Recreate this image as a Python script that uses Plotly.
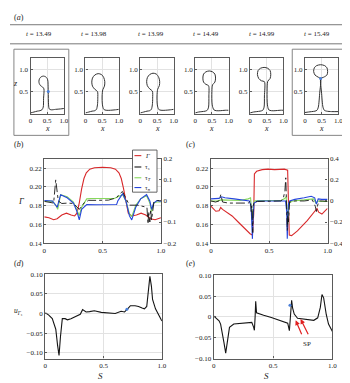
import plotly.graph_objects as go

W, H = 350, 383
FONT = "Liberation Serif"

# ---------------- data ----------------
times = ["13.49", "13.98", "13.99", "14.49", "14.99", "15.49"]

shape_x = [
    [0, 0.1, 0.2, 0.28, 0.34, 0.38, 0.39, 0.40, 0.36, 0.30, 0.26, 0.25, 0.27, 0.32, 0.385, 0.45, 0.50, 0.52, 0.525, 0.53, 0.54, 0.56, 0.62, 0.75, 0.9, 1.0],
    [0, 0.1, 0.2, 0.28, 0.33, 0.36, 0.37, 0.36, 0.28, 0.21, 0.19, 0.21, 0.28, 0.38, 0.48, 0.55, 0.58, 0.57, 0.52, 0.50, 0.51, 0.55, 0.62, 0.75, 0.9, 1.0],
    [0, 0.1, 0.2, 0.28, 0.33, 0.36, 0.37, 0.36, 0.28, 0.21, 0.19, 0.21, 0.28, 0.38, 0.48, 0.55, 0.58, 0.57, 0.52, 0.50, 0.51, 0.55, 0.62, 0.75, 0.9, 1.0],
    [0, 0.1, 0.2, 0.3, 0.36, 0.40, 0.41, 0.40, 0.32, 0.25, 0.23, 0.25, 0.32, 0.42, 0.52, 0.59, 0.61, 0.59, 0.52, 0.50, 0.51, 0.56, 0.63, 0.75, 0.9, 1.0],
    [0, 0.1, 0.2, 0.3, 0.38, 0.42, 0.43, 0.43, 0.34, 0.26, 0.22, 0.24, 0.31, 0.42, 0.53, 0.60, 0.62, 0.60, 0.53, 0.51, 0.52, 0.56, 0.64, 0.75, 0.9, 1.0],
    [0, 0.1, 0.2, 0.3, 0.36, 0.40, 0.44, 0.465, 0.40, 0.30, 0.26, 0.28, 0.35, 0.47, 0.59, 0.66, 0.68, 0.66, 0.56, 0.475, 0.50, 0.54, 0.58, 0.65, 0.8, 1.0],
]
shape_z = [
    [0.02, 0.04, 0.06, 0.07, 0.09, 0.15, 0.35, 0.56, 0.60, 0.63, 0.68, 0.73, 0.79, 0.83, 0.845, 0.83, 0.79, 0.73, 0.65, 0.5, 0.2, 0.11, 0.09, 0.1, 0.11, 0.12],
    [0.02, 0.04, 0.06, 0.07, 0.1, 0.2, 0.35, 0.50, 0.55, 0.62, 0.71, 0.80, 0.87, 0.90, 0.88, 0.81, 0.72, 0.62, 0.54, 0.4, 0.2, 0.1, 0.08, 0.08, 0.09, 0.10],
    [0.02, 0.04, 0.06, 0.07, 0.1, 0.2, 0.35, 0.51, 0.56, 0.63, 0.72, 0.81, 0.88, 0.91, 0.89, 0.82, 0.73, 0.63, 0.55, 0.4, 0.2, 0.1, 0.08, 0.08, 0.09, 0.10],
    [0.02, 0.04, 0.05, 0.06, 0.08, 0.15, 0.4, 0.63, 0.66, 0.71, 0.80, 0.89, 0.94, 0.96, 0.94, 0.89, 0.80, 0.71, 0.65, 0.5, 0.2, 0.09, 0.07, 0.07, 0.08, 0.08],
    [0.02, 0.04, 0.05, 0.06, 0.08, 0.15, 0.4, 0.72, 0.74, 0.79, 0.88, 0.97, 1.02, 1.04, 1.02, 0.97, 0.88, 0.79, 0.73, 0.5, 0.2, 0.09, 0.07, 0.07, 0.08, 0.08],
    [0.03, 0.04, 0.05, 0.06, 0.08, 0.15, 0.45, 0.79, 0.82, 0.87, 0.95, 1.03, 1.08, 1.10, 1.08, 1.03, 0.95, 0.87, 0.82, 0.79, 0.45, 0.15, 0.08, 0.06, 0.05, 0.05],
]
mark_panels = [0, 5]
mark_x = [0.53, 0.47]
mark_z = [0.5, 0.79]

# (b) t = 13.49
b_gam_s = [0, 0.04, 0.08, 0.11, 0.15, 0.19, 0.23, 0.26, 0.28, 0.30, 0.32, 0.34, 0.36, 0.39, 0.43, 0.5, 0.57, 0.61, 0.64, 0.66, 0.68, 0.70, 0.72, 0.75, 0.79, 0.83, 0.87, 0.91, 0.95, 1.0]
b_gam = [0.168, 0.167, 0.165, 0.166, 0.170, 0.172, 0.170, 0.169, 0.172, 0.183, 0.198, 0.209, 0.215, 0.219, 0.2205, 0.221, 0.2205, 0.219, 0.215, 0.209, 0.198, 0.183, 0.172, 0.169, 0.170, 0.172, 0.170, 0.166, 0.165, 0.167]
b_ts_s = [0, 0.05, 0.08, 0.098, 0.12, 0.15, 0.2, 0.25, 0.28, 0.3, 0.34, 0.38, 0.45, 0.55, 0.62, 0.64, 0.67, 0.7, 0.73, 0.8, 0.86, 0.88, 0.89, 0.895, 0.905, 0.912, 0.92, 0.94, 0.97, 1.0]
b_ts = [-0.002, -0.008, -0.01, 0.10, 0.0, -0.012, -0.01, -0.012, -0.03, -0.04, -0.01, 0.003, 0.003, 0.004, 0.015, 0.03, 0.045, 0.01, -0.02, -0.02, -0.025, -0.03, -0.11, -0.05, -0.1, -0.04, -0.09, -0.005, 0.002, 0.002]
b_tt_s = [0, 0.07, 0.1, 0.115, 0.14, 0.196, 0.25, 0.28, 0.30, 0.32, 0.364, 0.4, 0.5, 0.6, 0.63, 0.672, 0.7, 0.73, 0.75, 0.784, 0.826, 0.877, 0.905, 0.92, 0.938, 0.966, 1.0]
b_tt = [0.0, -0.002, -0.02, -0.04, 0.03, 0.02, -0.005, -0.04, -0.07, -0.03, 0.01, 0.012, 0.012, 0.012, 0.02, 0.03, 0.0, -0.06, -0.075, -0.02, 0.01, 0.025, -0.01, -0.05, -0.01, -0.005, -0.005]
b_tn_s = [0, 0.07, 0.11, 0.14, 0.196, 0.25, 0.28, 0.30, 0.32, 0.364, 0.45, 0.55, 0.62, 0.63, 0.672, 0.7, 0.73, 0.75, 0.784, 0.826, 0.877, 0.905, 0.92, 0.938, 0.966, 1.0]
b_tn = [0.002, 0.0, -0.03, 0.03, 0.015, -0.01, -0.05, -0.09, -0.04, -0.017, -0.018, -0.018, -0.017, 0.0, 0.035, 0.0, -0.07, -0.09, -0.03, 0.01, 0.03, 0.0, -0.04, -0.01, 0.002, -0.002]

# (c) t = 15.49
c_gam_s = [0, 0.042, 0.07, 0.084, 0.1, 0.126, 0.182, 0.238, 0.294, 0.336, 0.356, 0.367, 0.373, 0.392, 0.44, 0.49, 0.546, 0.6, 0.63, 0.658, 0.664, 0.672, 0.692, 0.742, 0.826, 0.882, 0.91, 0.924, 0.952, 1.0]
c_gam = [0.1795, 0.174, 0.1745, 0.178, 0.176, 0.174, 0.169, 0.162, 0.155, 0.150, 0.1485, 0.171, 0.214, 0.2167, 0.2185, 0.219, 0.2185, 0.2185, 0.219, 0.218, 0.19, 0.1485, 0.148, 0.153, 0.164, 0.172, 0.177, 0.173, 0.171, 0.177]
c_ts_s = [0, 0.04, 0.07, 0.085, 0.1, 0.15, 0.25, 0.32, 0.34, 0.345, 0.35, 0.353, 0.356, 0.359, 0.362, 0.37, 0.4, 0.5, 0.6, 0.62, 0.635, 0.642, 0.648, 0.655, 0.66, 0.665, 0.675, 0.72, 0.8, 0.87, 0.895, 0.905, 0.915, 0.93, 0.96, 1.0]
c_ts = [0.0, -0.01, 0.0, 0.06, -0.01, -0.02, -0.02, -0.02, 0.0, -0.1, -0.05, -0.25, -0.1, -0.3, -0.05, -0.01, -0.005, -0.005, 0.0, 0.02, 0.1, 0.22, 0.05, -0.28, -0.1, -0.2, -0.01, 0.0, 0.0, 0.01, -0.05, -0.1, -0.04, 0.0, 0.0, -0.005]
c_tt_s = [0, 0.05, 0.09, 0.15, 0.25, 0.32, 0.34, 0.35, 0.356, 0.362, 0.37, 0.4, 0.5, 0.6, 0.63, 0.645, 0.655, 0.66, 0.67, 0.7, 0.8, 0.88, 0.9, 0.92, 0.95, 1.0]
c_tt = [0.0, 0.0, 0.01, 0.01, 0.005, 0.02, 0.03, -0.1, -0.22, -0.08, 0.0, 0.005, 0.005, 0.005, 0.02, 0.04, -0.12, -0.22, -0.02, 0.0, 0.01, 0.02, -0.02, 0.0, -0.005, -0.005]
c_tn_s = [0, 0.04, 0.07, 0.09, 0.12, 0.2, 0.28, 0.33, 0.345, 0.352, 0.356, 0.36, 0.37, 0.4, 0.5, 0.6, 0.64, 0.65, 0.655, 0.66, 0.665, 0.675, 0.72, 0.8, 0.86, 0.89, 0.905, 0.92, 0.95, 1.0]
c_tn = [0.02, 0.02, 0.025, 0.04, 0.03, 0.02, 0.01, 0.0, -0.05, -0.2, -0.36, -0.2, -0.02, 0.0, 0.0, 0.0, 0.0, -0.1, -0.36, -0.15, -0.03, 0.0, 0.015, 0.03, 0.045, 0.03, -0.03, 0.02, 0.015, 0.015]

# (d) t = 13.49
d_s = [0, 0.03, 0.06, 0.09, 0.105, 0.118, 0.13, 0.146, 0.17, 0.19, 0.22, 0.26, 0.3, 0.32, 0.35, 0.38, 0.42, 0.48, 0.54, 0.6, 0.65, 0.68, 0.71, 0.73, 0.77, 0.8, 0.83, 0.85, 0.87, 0.885, 0.897, 0.91, 0.92, 0.945, 0.964, 1.0]
d_u = [0.002, -0.004, -0.013, -0.04, -0.08, -0.107, -0.06, -0.013, -0.013, -0.016, -0.013, -0.008, -0.002, 0.010, 0.004, 0.005, 0.007, 0.003, 0.002, 0.0, 0.006, 0.004, 0.013, 0.02, 0.02, 0.018, 0.014, 0.012, 0.018, 0.06, 0.095, 0.07, 0.036, 0.012, 0.0, -0.019]
d_mark = (0.70, 0.011)

# (e) t = 15.49
e_s = [0, 0.044, 0.057, 0.07, 0.085, 0.1, 0.113, 0.132, 0.168, 0.237, 0.32, 0.336, 0.342, 0.348, 0.353, 0.36, 0.375, 0.42, 0.485, 0.567, 0.623, 0.637, 0.645, 0.656, 0.664, 0.678, 0.706, 0.75, 0.788, 0.843, 0.876, 0.898, 0.912, 0.926, 0.948, 0.967, 1.0]
e_u = [0.002, -0.009, -0.017, -0.035, -0.061, -0.087, -0.057, -0.025, -0.017, -0.015, -0.013, -0.025, -0.032, 0.0, 0.038, 0.01, 0.008, 0.004, -0.001, -0.009, -0.015, -0.033, 0.0, 0.04, 0.022, 0.007, -0.003, -0.005, -0.005, -0.008, -0.002, 0.023, 0.054, 0.046, 0.006, -0.017, -0.035]
e_mark = (0.642, 0.028)
sp_tips = [(0.69, -0.008), (0.732, -0.005)]
sp_tails = [(0.746, -0.045), (0.802, -0.045)]

# ---------------- styles ----------------
RED = "#d8282a"
GREEN = "#86d85c"
BLUE = "#2545dc"
BLACK = "#151515"
FRAME = "#5a5a5a"
GRID = "#e2e2e2"
TICKSZ = 7


def X(px):
    return px / W


def Y(py):
    return 1 - py / H


def ax(**kw):
    d = dict(showline=True, linecolor=FRAME, linewidth=1.3, mirror=True,
             ticks="inside", ticklen=2, tickwidth=0.7, tickcolor=FRAME,
             showgrid=True, gridcolor=GRID, gridwidth=0.7, zeroline=False,
             tickfont=dict(family=FONT, size=TICKSZ, color="#222"), fixedrange=True)
    d.update(kw)
    return d


def neg(v):
    s = f"{v:g}"
    return s.replace("-", "\u2212")


fig = go.Figure()
layout = {}

# ---- (a) shape panels ----
for k in range(6):
    n = k + 1
    xa = "x" if n == 1 else f"x{n}"
    ya = "y" if n == 1 else f"y{n}"
    fig.add_trace(go.Scatter(x=shape_x[k], y=shape_z[k], mode="lines",
                             line=dict(color="#333", width=1, shape="spline", smoothing=0.8),
                             xaxis=xa, yaxis=ya, hoverinfo="skip"))
    left = 21 + 56 * k
    layout[f"xaxis{n}" if n > 1 else "xaxis"] = ax(
        domain=[X(left), X(left + 34)], range=[0, 1], anchor=ya,
        tickvals=[0, 0.5, 1], ticktext=["0", "0.5", "1.0"])
    layout[f"yaxis{n}" if n > 1 else "yaxis"] = ax(
        domain=[Y(104), Y(47)], range=[0, 1.25], anchor=xa,
        tickvals=[0.5, 1.0], ticktext=["0.5", "1.0"])

for p, mx, mz in zip(mark_panels, mark_x, mark_z):
    n = p + 1
    fig.add_trace(go.Scatter(x=[mx], y=[mz], mode="markers",
                             marker=dict(color="#4a7fd8", size=3),
                             xaxis="x" if n == 1 else f"x{n}",
                             yaxis="y" if n == 1 else f"y{n}", hoverinfo="skip"))


# ---- (b) and (c) ----
def stress_panel(xn, yl, yr, left, right, rmax, gs, g, ss, ts, st, tt, sn, tn):
    fig.add_trace(go.Scatter(x=gs, y=g, mode="lines", line=dict(color=RED, width=1.1),
                             xaxis=f"x{xn}", yaxis=f"y{yl}", hoverinfo="skip"))
    fig.add_trace(go.Scatter(x=st, y=tt, mode="lines", line=dict(color=GREEN, width=1.1),
                             xaxis=f"x{xn}", yaxis=f"y{yr}", hoverinfo="skip"))
    fig.add_trace(go.Scatter(x=sn, y=tn, mode="lines", line=dict(color=BLUE, width=1.1),
                             xaxis=f"x{xn}", yaxis=f"y{yr}", hoverinfo="skip"))
    fig.add_trace(go.Scatter(x=ss, y=ts, mode="lines", line=dict(color=BLACK, width=0.9, dash="dashdot"),
                             xaxis=f"x{xn}", yaxis=f"y{yr}", hoverinfo="skip"))
    layout[f"xaxis{xn}"] = ax(domain=[X(left), X(right)], range=[0, 1], anchor=f"y{yl}",
                              tickvals=[0, 0.5, 1], ticktext=["0", "0.5", "1.0"])
    lv = [0.14, 0.16, 0.18, 0.20, 0.22]
    layout[f"yaxis{yl}"] = ax(domain=[Y(236), Y(150)], range=[0.14, 0.23], anchor=f"x{xn}",
                              tickvals=lv, ticktext=[f"{v:.2f}" for v in lv])
    rv = [-rmax, -rmax / 2, 0, rmax / 2, rmax]
    layout[f"yaxis{yr}"] = ax(overlaying=f"y{yl}", side="right", anchor=f"x{xn}",
                              range=[-rmax, rmax], tickvals=rv, ticktext=[neg(v) for v in rv],
                              showgrid=False, mirror=False)


stress_panel(7, 7, 8, 35, 154, 0.2, b_gam_s, b_gam, b_ts_s, b_ts, b_tt_s, b_tt, b_tn_s, b_tn)
stress_panel(8, 9, 10, 205, 324, 0.4, c_gam_s, c_gam, c_ts_s, c_ts, c_tt_s, c_tt, c_tn_s, c_tn)

# ---- (d) and (e) ----
uv = [-0.10, -0.05, 0, 0.05, 0.10]
ut = ["\u22120.10", "\u22120.05", "0", "0.05", "0.10"]
fig.add_trace(go.Scatter(x=d_s, y=d_u, mode="lines", line=dict(color=BLACK, width=1.1),
                         xaxis="x9", yaxis="y11", hoverinfo="skip"))
fig.add_trace(go.Scatter(x=[d_mark[0]], y=[d_mark[1]], mode="markers",
                         marker=dict(color="#4a7fd8", size=3), xaxis="x9", yaxis="y11"))
layout["xaxis9"] = ax(domain=[X(36), X(155)], range=[0, 1], anchor="y11",
                      tickvals=[0, 0.5, 1], ticktext=["0", "0.5", "1.0"])
layout["yaxis11"] = ax(domain=[Y(354), Y(268)], range=[-0.115, 0.10], anchor="x9",
                       tickvals=uv, ticktext=ut)
fig.add_trace(go.Scatter(x=e_s, y=e_u, mode="lines", line=dict(color=BLACK, width=1.1),
                         xaxis="x10", yaxis="y12", hoverinfo="skip"))
fig.add_trace(go.Scatter(x=[e_mark[0]], y=[e_mark[1]], mode="markers",
                         marker=dict(color="#4a7fd8", size=3), xaxis="x10", yaxis="y12"))
layout["xaxis10"] = ax(domain=[X(208), X(329)], range=[0, 1], anchor="y12",
                       tickvals=[0, 0.5, 1], ticktext=["0", "0.5", "1.0"])
layout["yaxis12"] = ax(domain=[Y(354), Y(269)], range=[-0.10, 0.10], anchor="x10",
                       tickvals=uv, ticktext=ut)

# ---------------- annotations ----------------
ann = []


def txt(px, py, s, size=7, xanchor="center"):
    ann.append(dict(x=X(px), y=Y(py), xref="paper", yref="paper", text=s, showarrow=False,
                    xanchor=xanchor, yanchor="middle",
                    font=dict(family=FONT, size=size, color="#222")))


txt(9, 6, "(<i>a</i>)", 8)
txt(9, 135, "(<i>b</i>)", 8)
txt(184, 135, "(<i>c</i>)", 8)
txt(9, 257, "(<i>d</i>)", 8)
txt(184, 257, "(<i>e</i>)", 8)
t_cx = [30, 86, 144, 200, 257, 313]
for cx, t in zip(t_cx, times):
    txt(cx, 22.5, f"<i>t</i> = {t}", 7)
txt(6, 73, "<i>z</i>", 8)
for k in range(6):
    txt(38 + 56 * k, 119, "<i>x</i>", 8)
txt(12, 193, "<i>Γ</i>", 8.5)
txt(345, 193, "<i>τ</i>", 8.5)
txt(9, 306, "<i>u</i><sub><i>Γ</i><sub><i>s</i></sub></sub>", 7.5)
txt(92, 372, "<i>S</i>", 9)
txt(262, 372, "<i>S</i>", 9)
txt(303, 339, "SP", 7)

# legend of (b)
leg_y = [146.7, 158.3, 169.3, 179.3]
leg_t = ["<i>Γ</i>", "τ<sub><i>s</i></sub>", "τ<sub><i>T</i></sub>", "τ<sub><i>n</i></sub>"]
leg_c = [RED, BLACK, GREEN, BLUE]
leg_d = ["solid", "dashdot", "solid", "solid"]
for yy, tt_ in zip(leg_y, leg_t):
    txt(135.5, yy, tt_, 6.5, xanchor="left")

# SP arrows
for (tx, ty), (sx, sy) in zip(sp_tips, sp_tails):
    ann.append(dict(x=tx, y=ty, ax=sx, ay=sy, xref="x10", yref="y12", axref="x10", ayref="y12",
                    text="", showarrow=True, arrowhead=2, arrowsize=0.8, arrowwidth=1.2,
                    arrowcolor="#e02020"))

# ---------------- shapes ----------------
shapes = []
for py in (13, 32.5):
    shapes.append(dict(type="line", xref="paper", yref="paper", x0=0, x1=1, y0=Y(py), y1=Y(py),
                       line=dict(color="#555", width=0.8)))
for (x0, x1) in ((4, 60), (288, 348)):
    shapes.append(dict(type="rect", xref="paper", yref="paper", x0=X(x0), x1=X(x1), y0=Y(126), y1=Y(38),
                       line=dict(color="#777", width=0.9)))
shapes.append(dict(type="rect", xref="paper", yref="paper", x0=X(125), x1=X(150), y0=Y(184), y1=Y(141),
                   line=dict(color="#555", width=0.9), fillcolor="white", layer="above"))
for yy, c, d in zip(leg_y, leg_c, leg_d):
    shapes.append(dict(type="line", xref="paper", yref="paper", x0=X(127), x1=X(134), y0=Y(yy), y1=Y(yy),
                       line=dict(color=c, width=1.1, dash=d)))

fig.update_layout(width=W, height=H, margin=dict(l=0, r=0, t=0, b=0),
                  paper_bgcolor="white", plot_bgcolor="white", showlegend=False,
                  font=dict(family=FONT, size=7, color="#333"),
                  annotations=ann, shapes=shapes, **layout)
fig.write_html("out.html")
